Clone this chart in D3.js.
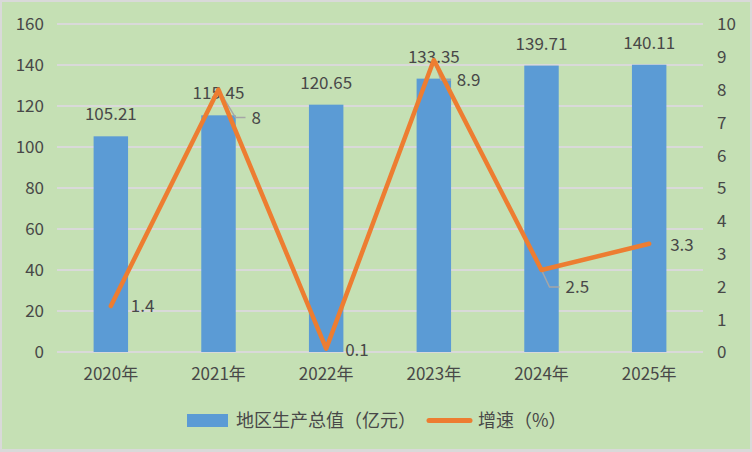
<!DOCTYPE html>
<html><head><meta charset="utf-8">
<script src="https://cdn.jsdelivr.net/npm/d3@7/dist/d3.min.js"></script>
<style>
html,body{margin:0;padding:0;background:#fff;}
svg{display:block;}
text{font-family:"Noto Sans CJK SC","Microsoft YaHei",sans-serif;fill:#484848;}
</style></head>
<body><svg id="c" width="752" height="452"></svg>
<script>
const years = ["2020年","2021年","2022年","2023年","2024年","2025年"];
const gdp = [105.21,115.45,120.65,133.35,139.71,140.11];
const growth = [1.4,8,0.1,8.9,2.5,3.3];
const leftTicks = [0,20,40,60,80,100,120,140,160];
const rightTicks = [0,1,2,3,4,5,6,7,8,9,10];
const seriesNames = ["地区生产总值（亿元）","增速（%）"];

// layout of growth labels (offset from point, and whether a leader line is drawn)
const labelShift = [[20,0,false],[33,28,true],[19,1,false],[23,20,true],[24,17,true],[21,1,false]];

const svg = d3.select("#c");
const W = 752, H = 452;
svg.append("rect").attr("width",W).attr("height",H).attr("fill","#D9D9D9");
svg.append("rect").attr("x",2).attr("y",2).attr("width",W-4).attr("height",H-5).attr("fill","#C5E0B4");

const x0 = 57, x1 = 703, yTop = 24, yBot = 352;
const x = d3.scaleBand().domain(years).range([x0,x1]).paddingInner(0.68).paddingOuter(0.34);
const yL = d3.scaleLinear().domain([0,160]).range([yBot,yTop]);
const yR = d3.scaleLinear().domain([0,10]).range([yBot,yTop]);
const cx = d => x(d) + x.bandwidth()/2;

// gridlines
const grid = svg.append("g");
grid.selectAll("line").data(leftTicks).join("line")
  .attr("x1",x0).attr("x2",x1).attr("y1",d=>yL(d)).attr("y2",d=>yL(d))
  .attr("stroke","#D9D9D9").attr("stroke-width",2);

// left axis
const ax = svg.append("g").attr("transform",`translate(${x0},0)`)
  .call(d3.axisLeft(yL).tickValues(leftTicks).tickSize(0).tickPadding(13));
ax.select(".domain").remove();
ax.selectAll("text").style("font-size","17px").attr("fill","#484848").attr("dy","0.35em");

const axr = svg.append("g").attr("transform",`translate(${x1},0)`)
  .call(d3.axisRight(yR).tickValues(rightTicks).tickSize(0).tickPadding(14));
axr.select(".domain").remove();
axr.selectAll("text").style("font-size","17px").attr("fill","#484848").attr("dy","0.35em");

const axb = svg.append("g").attr("transform",`translate(0,${yBot})`)
  .call(d3.axisBottom(x).tickSize(0).tickPadding(16));
axb.select(".domain").remove();
axb.selectAll("text").style("font-size","17px").attr("fill","#484848");

// bars
svg.append("g").selectAll("rect").data(years).join("rect")
  .attr("x",d=>x(d)).attr("width",x.bandwidth())
  .attr("y",(d,i)=>yL(gdp[i])).attr("height",(d,i)=>yBot-yL(gdp[i]))
  .attr("fill","#5B9BD5");

// bar labels
svg.append("g").selectAll("text").data(years).join("text")
  .attr("x",d=>cx(d)).attr("y",(d,i)=>yL(gdp[i])-16)
  .attr("text-anchor","middle").style("font-size","17px")
  .text((d,i)=>gdp[i].toFixed(2));

// leader lines
svg.append("g").selectAll("polyline").data(years.filter((d,i)=>labelShift[i][2])).join("polyline")
  .attr("points",d=>{
    const i = years.indexOf(d);
    const px = cx(d), py = yR(growth[i]);
    const lx = px+labelShift[i][0], ly = py+labelShift[i][1];
    return `${px},${py} ${lx-16},${ly} ${lx-6},${ly}`;
  })
  .attr("fill","none").attr("stroke","#A6A6A6").attr("stroke-width",1.5);

// line
const line = d3.line().x(d=>cx(d)).y((d,i)=>yR(growth[i]));
svg.append("path").datum(years).attr("d",line)
  .attr("fill","none").attr("stroke","#ED7D31").attr("stroke-width",4.5)
  .attr("stroke-linejoin","round").attr("stroke-linecap","round");

// growth labels
svg.append("g").selectAll("text").data(years).join("text")
  .attr("x",(d,i)=>cx(d)+labelShift[i][0])
  .attr("y",(d,i)=>yR(growth[i])+labelShift[i][1])
  .attr("dy","0.35em").style("font-size","17px")
  .text((d,i)=>String(growth[i]));

// legend
const lg = svg.append("g");
lg.append("rect").attr("x",187).attr("y",414).attr("width",41).attr("height",13).attr("fill","#5B9BD5");
lg.append("text").attr("x",236).attr("y",421).attr("dy","0.35em").style("font-size","18px").text(seriesNames[0]);
lg.append("line").attr("x1",429).attr("x2",470).attr("y1",420.5).attr("y2",420.5)
  .attr("stroke","#ED7D31").attr("stroke-width",5).attr("stroke-linecap","round");
lg.append("text").attr("x",478).attr("y",421).attr("dy","0.35em").style("font-size","18px").text(seriesNames[1]);
</script></body></html>
